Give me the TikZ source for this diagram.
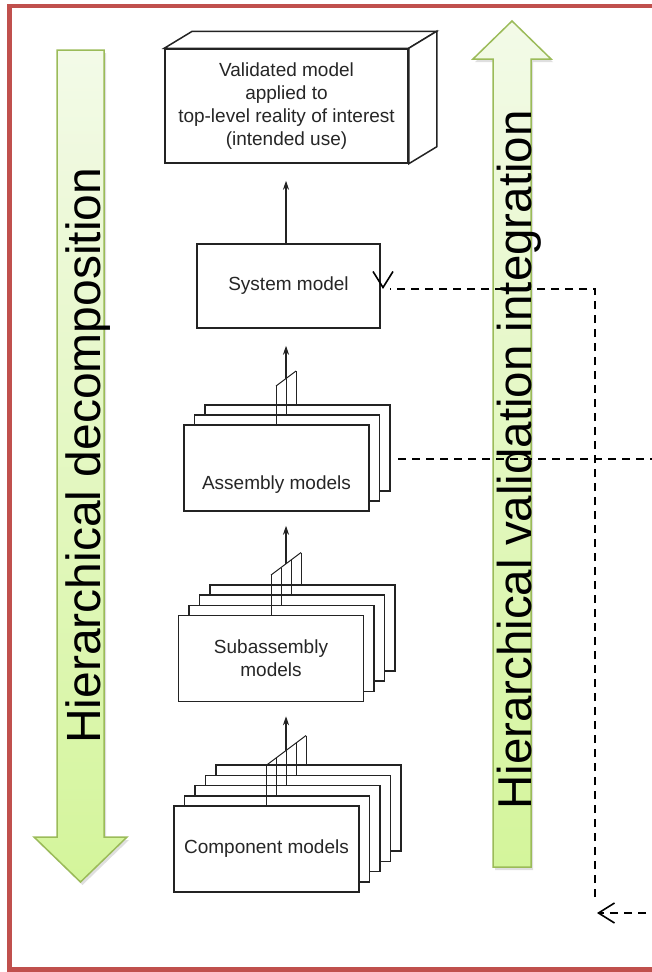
\documentclass[tikz,border=0pt]{standalone}
\usepackage{fontspec}
\setmainfont{Liberation Sans}
\usetikzlibrary{
    arrows.meta,
    positioning,
    calc,
    shadows
}
\definecolor{framered}{RGB}{192, 80, 77}
\definecolor{arrowgreen}{RGB}{155, 187, 89}
\definecolor{greenlight}{RGB}{243, 250, 232}
\definecolor{greendeep}{RGB}{212, 245, 155}
\definecolor{boxline}{RGB}{35, 35, 35}

\begin{document}
\begin{tikzpicture}[
        x=1pt, y=-1pt,
        sheet/.style={draw=boxline, line width=1.5pt, fill=white, minimum width=185pt, minimum height=86pt, inner sep=0pt, align=center, text=black!85, font=\fontsize{19}{23}\selectfont},
        fanline/.style={draw=boxline, line width=1pt},
        arrow/.style={-{Stealth[length=9pt, width=6pt]}, draw=boxline, line width=1.1pt},
        feedback/.style={dash pattern=on 8pt off 6pt, line width=1.6pt},
        barb/.style={-{Straight Barb[length=16pt, width=20pt]}, line width=1.6pt},
        bigarrow/.style={draw=arrowgreen, line width=1.5pt, top color=greenlight, bottom color=greendeep, drop shadow={shadow xshift=2pt, shadow yshift=-3pt, opacity=0.25}},
        biglabel/.style={rotate=90, anchor=base west, inner sep=0pt}
    ]
        \clip (0,0) rectangle (652,972);

        % Frame (right side lies off the page)
        \draw[framered, line width=4.5pt] (700,6) -- (9.5,6) -- (9.5,969.5) -- (700,969.5);

        % Big arrows
        \path[bigarrow] (57,50) -- (104,50) -- (104,837) -- (127,837) -- (80.5,882) -- (34,837) -- (57,837) -- cycle;
        \path[bigarrow] (493,867) -- (531,867) -- (531,59) -- (551,59) -- (512,21) -- (473,59) -- (493,59) -- cycle;

        \node[biglabel, font=\fontsize{48}{48}\selectfont] (decomp) at (100,744) {Hierarchical decomposition};
        \node[biglabel, font=\fontsize{47.5}{48}\selectfont] (integr) at (531,810) {Hierarchical validation integration};

        % Top-level model
        \node[sheet, minimum width=243pt, minimum height=114pt] (usecase) at (286.5,106) {Validated model\\applied to\\top-level reality of interest\\(intended use)};
        \filldraw[fill=white, draw=boxline, line width=1.5pt] (usecase.north west) -- ++(28,-17) -- ([shift={(28,-17)}]usecase.north east) -- (usecase.north east) -- cycle;
        \filldraw[fill=white, draw=boxline, line width=1.5pt] (usecase.north east) -- ++(28,-17) -- ([shift={(28,-17)}]usecase.south east) -- (usecase.south east) -- cycle;

        % System
        \node[sheet, minimum width=183pt, minimum height=84pt] (system) at (288.5,286) {System model};

        % Assemblies
        \foreach \i in {2,1}
            \node[sheet] (asm\i) at ({276.5+10.5*\i},{468-10*\i}) {};
        \node[sheet, text height=42pt, text depth=0pt] (asm0) at (276.5,468) {Assembly models};

        % Subassemblies
        \foreach \i in {3,2,1}
            \node[sheet] (sub\i) at ({271+10.5*\i},{658.5-10.2*\i}) {};
        \node[sheet] (sub0) at (271,658.5) {Subassembly\\models};

        % Components
        \foreach \i in {4,3,2,1}
            \node[sheet] (comp\i) at ({266.5+10.5*\i},{849-10.2*\i}) {};
        \node[sheet] (comp0) at (266.5,849) {Component models};

        % Fans
        \foreach \i in {0,...,4}
            \draw[fanline] ({266+10*\i},{765.5-7.5*\i}) -- ({266+10*\i},0 |- comp\i.north);
        \draw[fanline] (266,765.5) -- (306,735.5);
        \draw[arrow] (286,750.5) -- ($(sub0.south)+(15,14)$);

        \foreach \i in {0,...,3}
            \draw[fanline] ({271+10*\i},{575-7.5*\i}) -- ({271+10*\i},0 |- sub\i.north);
        \draw[fanline] (271,575) -- (301,552.5);
        \draw[arrow] (286,563.75) -- ($(asm0.south)+(9.5,14)$);

        \foreach \i in {0,...,2}
            \draw[fanline] ({276+10*\i},{386-7.5*\i}) -- ({276+10*\i},0 |- asm\i.north);
        \draw[fanline] (276,386) -- (296,371);
        \draw[arrow] (286,378.5) -- ($(system.south)+(-2.5,17)$);

        \draw[arrow] ($(system.north)+(-2.5,0)$) -- ($(usecase.south)+(-0.5,17)$);

        % Feedback
        \coordinate (sysin) at (383,289);
        \coordinate (bend) at (595,289);
        \coordinate (loopend) at (595,897);
        \coordinate (asmout) at (398,459);
        \coordinate (asmedge) at (660,459);
        \coordinate (retin) at (597,913);
        \coordinate (retedge) at (660,913);

        \draw[feedback] (loopend) -- (bend) -- ([xshift=7pt]sysin);
        \draw[barb] ([yshift=1pt]sysin) -- (sysin);
        \draw[feedback] (asmout) -- (asmedge);
        \draw[feedback, barb] (retedge) -- (retin);
    \end{tikzpicture}
\end{document}
